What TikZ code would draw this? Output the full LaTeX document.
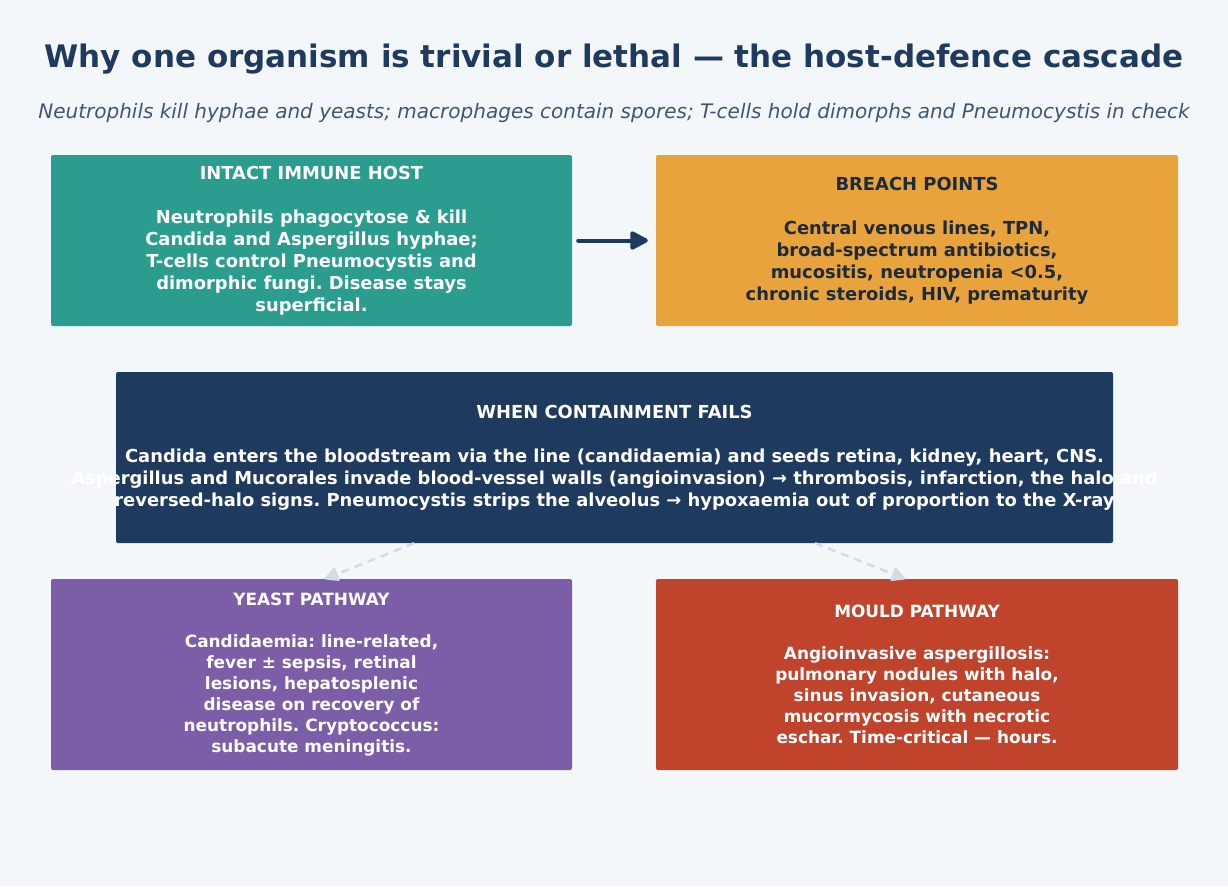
\documentclass[tikz,border=0pt]{standalone}
\usepackage{fontspec}
\setmainfont{DejaVu Sans}
\usetikzlibrary{arrows.meta}
\frenchspacing

\definecolor{pagebg}{HTML}{F4F7FA}
\definecolor{navy}{HTML}{1F3A5F}
\definecolor{subgrey}{HTML}{3E5676}
\definecolor{teal}{HTML}{2A9D8F}
\definecolor{amber}{HTML}{E8A33C}
\definecolor{plum}{HTML}{7B5EA7}
\definecolor{rust}{HTML}{C0432B}
\definecolor{inkdark}{HTML}{1E2B3A}
\definecolor{dashgrey}{HTML}{D3DCE6}

\tikzset{
  panel/.style={rectangle, rounded corners=2pt, inner sep=0pt},
  paneltext/.style={align=center, text=white, font=\fontsize{17.9}{22}\selectfont\bfseries},
  pathtext/.style={paneltext, font=\fontsize{16.9}{21}\selectfont\bfseries},
  flowdash/.style={-{Triangle[length=15pt, width=15pt, round]}, dashgrey, line width=2.5pt, dash pattern=on 8pt off 6pt},
}

\begin{document}
\begin{tikzpicture}[x=1pt, y=-1pt]
        \fill[pagebg] (0,0) rectangle (1228,886);
        \node[font=\fontsize{31}{34}\selectfont\bfseries, text=navy] (title) at (614,59) {Why one organism is trivial or lethal — the host-defence cascade};
        \node[font=\fontsize{20}{24}\selectfont\itshape, text=subgrey] (subtitle) at (614,112.5) {Neutrophils kill hyphae and yeasts; macrophages contain spores; T-cells hold dimorphs and Pneumocystis in check};

        \node[panel, fill=teal, minimum width=521, minimum height=171] (host) at (311.5,240.5) {};
        \node[paneltext] at (host.center) {INTACT IMMUNE HOST\\[22pt]Neutrophils phagocytose \& kill\\Candida and Aspergillus hyphae;\\T-cells control Pneumocystis and\\dimorphic fungi. Disease stays\\superficial.};

        \node[panel, fill=amber, minimum width=522, minimum height=171] (breach) at (917,240.5) {};
        \node[paneltext, text=inkdark] at (breach.center) {BREACH POINTS\\[22pt]Central venous lines, TPN,\\broad-spectrum antibiotics,\\mucositis, neutropenia <0.5,\\chronic steroids, HIV, prematurity};

        \node[panel, fill=navy, minimum width=997, minimum height=171] (fails) at (614.5,457.5) {};
        \node[paneltext] at (fails.center) {WHEN CONTAINMENT FAILS\\[22pt]Candida enters the bloodstream via the line (candidaemia) and seeds retina, kidney, heart, CNS.\\Aspergillus and Mucorales invade blood-vessel walls (angioinvasion) → thrombosis, infarction, the halo and\\reversed-halo signs. Pneumocystis strips the alveolus → hypoxaemia out of proportion to the X-ray};

        \node[panel, fill=plum, minimum width=521, minimum height=191] (yeast) at (311.5,674.5) {};
        \node[pathtext] at (yeast.center) {YEAST PATHWAY\\[21pt]Candidaemia: line-related,\\fever ± sepsis, retinal\\lesions, hepatosplenic\\disease on recovery of\\neutrophils. Cryptococcus:\\subacute meningitis.};

        \node[panel, fill=rust, minimum width=522, minimum height=191] (mould) at (917,674.5) {};
        \node[pathtext] at (mould.center) {MOULD PATHWAY\\[21pt]Angioinvasive aspergillosis:\\pulmonary nodules with halo,\\sinus invasion, cutaneous\\mucormycosis with necrotic\\eschar. Time-critical — hours.};

        \draw[-{Triangle[length=20pt, width=20pt, round]}, navy, line width=4pt, line cap=round, shorten <=6pt, shorten >=8pt] (host) -- (breach);
        \draw[flowdash] ([xshift=-200.5pt]fails.south) -- ([xshift=13.5pt]yeast.north);
        \draw[flowdash] ([xshift=200.5pt]fails.south) -- ([xshift=-12pt]mould.north);
\end{tikzpicture}
\end{document}
